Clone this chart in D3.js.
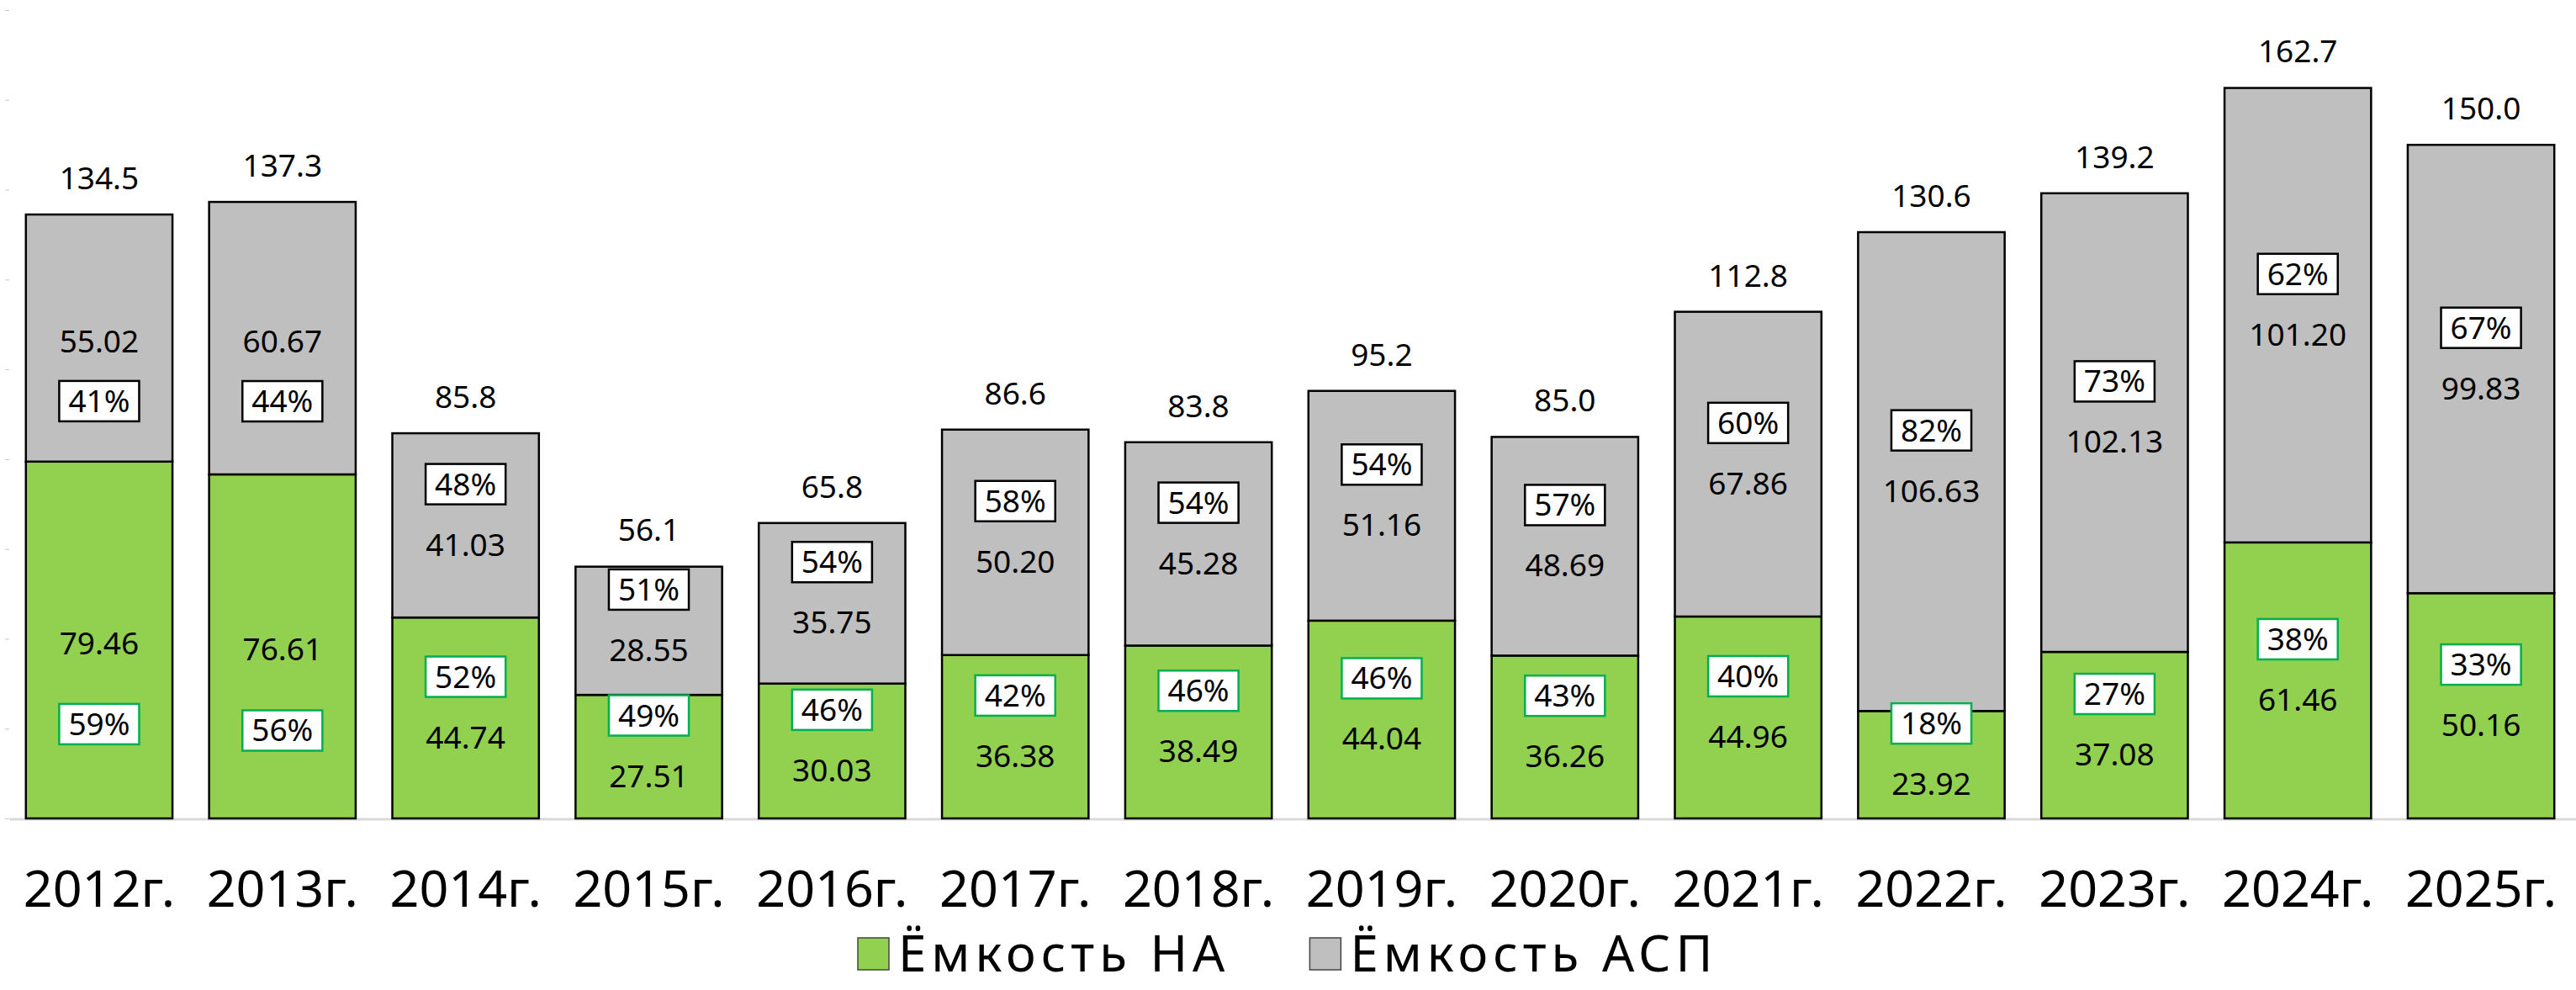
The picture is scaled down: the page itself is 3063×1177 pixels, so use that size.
<!DOCTYPE html>
<html>
<head>
<meta charset="utf-8">
<script src="https://cdn.jsdelivr.net/npm/d3@7"></script>
<style>
  body { margin: 0; background: #fff; }
  svg { display: block; font-family: "Noto Sans", sans-serif; }
</style>
</head>
<body>
<svg width="3063" height="1177"></svg>
<script>
// values
const years = ["2012г.", "2013г.", "2014г.", "2015г.", "2016г.", "2017г.", "2018г.",
  "2019г.", "2020г.", "2021г.", "2022г.", "2023г.", "2024г.", "2025г."];
const naValues = [79.46, 76.61, 44.74, 27.51, 30.03, 36.38, 38.49, 44.04, 36.26, 44.96, 23.92, 37.08, 61.46, 50.16];
const aspValues = [55.02, 60.67, 41.03, 28.55, 35.75, 50.20, 45.28, 51.16, 48.69, 67.86, 106.63, 102.13, 101.20, 99.83];
const totals = [134.5, 137.3, 85.8, 56.1, 65.8, 86.6, 83.8, 95.2, 85.0, 112.8, 130.6, 139.2, 162.7, 150.0];
const naShare = [59, 56, 52, 49, 46, 42, 46, 46, 43, 40, 18, 27, 38, 33];
const aspShare = [41, 44, 48, 51, 54, 58, 54, 54, 57, 60, 82, 73, 62, 67];
const seriesNames = ["Ёмкость НА", "Ёмкость АСП"];
const yTicks = [0, 20, 40, 60, 80, 100, 120, 140, 160, 180];

// in these two bars the share box sits under the value
const shareBelow = new Set(["2012г.", "2013г."]);

const width = 3063, height = 1177;
const green = "#92d050", grey = "#bfbfbf";

const rows = years.map((year, i) => ({year, na: naValues[i], asp: aspValues[i], total: totals[i],
  naPct: naShare[i], aspPct: aspShare[i]}));

const x = d3.scaleBand()
    .domain(years)
    .range([9, 3059])
    .paddingInner(0.2)
    .paddingOuter(0.1);
const y = d3.scaleLinear()
    .domain([0, 180])
    .range([973, 12]);

const stack = d3.stack().keys(["na", "asp"]);
const series = stack(rows);

const svg = d3.select("svg");

// faint ticks on the left, no labels
svg.append("g")
    .attr("transform", "translate(11,0)")
    .call(d3.axisLeft(y).tickValues(yTicks).tickSize(5).tickFormat(""))
    .call(g => g.select(".domain").remove())
    .call(g => g.selectAll(".tick line").attr("stroke", "#c8c8c8"));

// baseline
svg.append("line")
    .attr("x1", 12).attr("x2", width)
    .attr("y1", y(0) + 1).attr("y2", y(0) + 1)
    .attr("stroke", "#d9d9d9").attr("stroke-width", 3);

const colors = {na: green, asp: grey};

svg.append("g")
  .selectAll("g")
  .data(series)
  .join("g")
    .attr("fill", d => colors[d.key])
  .selectAll("rect")
  .data(d => d)
  .join("rect")
    .attr("x", d => x(d.data.year))
    .attr("y", d => y(d[1]))
    .attr("width", x.bandwidth())
    .attr("height", d => y(d[0]) - y(d[1]))
    .attr("stroke", "#000")
    .attr("stroke-width", 2.5);

// totals over the bars
svg.append("g")
    .attr("font-size", 37)
    .attr("text-anchor", "middle")
  .selectAll("text")
  .data(rows)
  .join("text")
    .attr("x", d => x(d.year) + x.bandwidth() / 2)
    .attr("y", d => y(d.total) - 30)
    .text(d => d.total.toFixed(1));

// value labels and share boxes inside each segment
const labels = svg.append("g").attr("font-size", 37).attr("text-anchor", "middle");

series.forEach(s => {
  s.forEach(d => {
    const row = d.data;
    const cx = x(row.year) + x.bandwidth() / 2;
    const mid = (y(d[0]) + y(d[1])) / 2;
    const below = shareBelow.has(row.year);
    const valueY = below ? mid + 4 : mid + 23;
    const shareY = below ? mid + (s.key === "na" ? 100 : 75) : mid - 49;
    const value = s.key === "na" ? row.na : row.asp;
    const pct = s.key === "na" ? row.naPct : row.aspPct;

    labels.append("text")
        .attr("x", cx)
        .attr("y", valueY)
        .attr("dy", "0.35em")
        .text(value.toFixed(2));

    const box = labels.append("g").attr("transform", `translate(${cx},${shareY})`);
    const rect = box.append("rect")
        .attr("fill", "#fff")
        .attr("stroke", s.key === "na" ? "#00b050" : "#000")
        .attr("stroke-width", 2.5);
    const t = box.append("text")
        .attr("dy", "0.35em")
        .text(pct + "%");
    const w = t.node().getBBox().width + 22;
    rect.attr("x", -w / 2).attr("y", -24).attr("width", w).attr("height", 48);
  });
});

// category labels
svg.append("g")
    .attr("font-size", 61)
    .attr("text-anchor", "middle")
  .selectAll("text")
  .data(years)
  .join("text")
    .attr("x", d => x(d) + x.bandwidth() / 2)
    .attr("y", 1057)
    .attr("dy", "0.35em")
    .text(d => d);

// legend
const legend = svg.append("g").attr("font-size", 60).attr("letter-spacing", 6);
const legendColors = [green, grey];
let lx = 0;
seriesNames.forEach((name, i) => {
  const g = legend.append("g").attr("transform", `translate(${lx},0)`);
  g.append("rect")
      .attr("y", -19).attr("width", 37).attr("height", 38)
      .attr("fill", legendColors[i]).attr("stroke", "#444").attr("stroke-width", 1.5);
  const t = g.append("text").attr("x", 48).attr("dy", "0.35em").text(name);
  lx += 48 + t.node().getBBox().width + 95;
});
legend.attr("transform", "translate(1020,1134)");
</script>
</body>
</html>
